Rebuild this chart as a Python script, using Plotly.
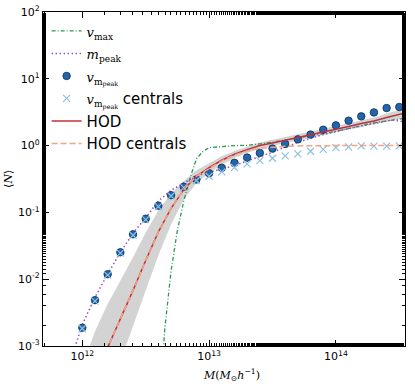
import plotly.graph_objects as go

# halo mass grid (M_sun/h)
mass = [1.0e12, 1.259e12, 1.585e12, 1.995e12, 2.512e12, 3.162e12, 3.981e12,
        5.012e12, 6.310e12, 7.943e12, 1.0e13, 1.259e13, 1.585e13, 1.995e13,
        2.512e13, 3.162e13, 3.981e13, 5.012e13, 6.310e13, 7.943e13, 1.0e14,
        1.259e14, 1.585e14, 1.995e14, 2.512e14, 3.162e14, 3.548e14]

hod = [7.9e-5, 3.2e-4, 9.5e-4, 2.5e-3, 6.8e-3, 0.019, 0.051, 0.115, 0.219,
       0.347, 0.468, 0.603, 0.741, 0.871, 1.0, 1.096, 1.20, 1.33, 1.46, 1.60,
       1.76, 1.93, 2.14, 2.34, 2.63, 2.95, 3.09]
hod_cen = [7.9e-5, 3.2e-4, 9.5e-4, 2.5e-3, 6.8e-3, 0.019, 0.051, 0.115, 0.219,
           0.347, 0.447, 0.589, 0.724, 0.832, 0.912, 0.955, 0.977, 0.99, 1.0,
           1.0, 1.0, 1.0, 1.0, 1.0, 1.0, 1.0, 1.0]
hod_hi = [5.0e-4, 1.66e-3, 4.27e-3, 9.5e-3, 0.0214, 0.050, 0.107, 0.19, 0.295,
          0.427, 0.55, 0.69, 0.83, 0.966, 1.11, 1.22, 1.33, 1.48, 1.62, 1.78,
          1.95, 2.14, 2.37, 2.63, 3.02, 3.47, 3.63]
hod_lo = [1.0e-5, 5.0e-5, 1.8e-4, 6.0e-4, 2.0e-3, 6.8e-3, 0.0229, 0.066, 0.155,
          0.275, 0.389, 0.519, 0.653, 0.776, 0.902, 0.989, 1.084, 1.20, 1.32,
          1.445, 1.585, 1.74, 1.91, 2.09, 2.29, 2.51, 2.63]

vmax_mass = [4.17e12, 4.47e12, 5.01e12, 5.62e12, 6.31e12, 7.08e12, 7.94e12,
             8.91e12, 1.0e13, 1.259e13, 1.585e13, 1.995e13, 2.512e13,
             3.162e13, 3.981e13, 5.012e13, 6.310e13, 7.943e13, 1.0e14,
             1.259e14, 1.585e14, 1.995e14, 2.512e14, 3.162e14, 3.548e14]
vmax_n = [2.5e-4, 1.78e-3, 0.0132, 0.0537, 0.148, 0.331, 0.631, 0.813, 0.933,
          0.977, 1.0, 1.01, 1.05, 1.12, 1.22, 1.30, 1.40, 1.51, 1.64, 1.80,
          1.97, 2.19, 2.34, 2.51, 2.57]

mpeak_mass = [7.94e11, 8.91e11, 1.0e12, 1.259e12, 1.585e12, 1.995e12,
              2.512e12, 3.162e12, 3.981e12, 5.012e12, 6.310e12, 7.943e12,
              1.0e13, 1.259e13, 1.585e13, 1.995e13, 2.512e13, 3.162e13,
              3.981e13, 5.012e13, 6.310e13, 7.943e13, 1.0e14, 1.259e14,
              1.585e14, 1.995e14, 2.512e14, 2.818e14, 3.162e14, 3.548e14]
mpeak_n = [3.2e-4, 1.07e-3, 2.09e-3, 5.37e-3, 0.012, 0.0251, 0.049, 0.083,
           0.148, 0.214, 0.275, 0.355, 0.398, 0.447, 0.501, 0.589, 0.676,
           0.794, 0.955, 1.12, 1.29, 1.46, 1.64, 1.80, 1.97, 2.16, 2.34,
           2.43, 2.34, 2.24]

pts_mass = mass[:26]
vmpeak = [0.00188, 0.00486, 0.0119, 0.0253, 0.047, 0.0805, 0.126, 0.181,
          0.242, 0.311, 0.386, 0.465, 0.552, 0.662, 0.778, 0.902, 1.06, 1.24,
          1.46, 1.73, 2.01, 2.36, 2.74, 3.14, 3.65, 3.78]
vmpeak_cen = [0.00183, 0.0047, 0.0115, 0.0245, 0.0455, 0.078, 0.122, 0.176,
              0.235, 0.30, 0.348, 0.405, 0.47, 0.533, 0.597, 0.647, 0.70,
              0.752, 0.822, 0.88, 0.933, 0.955, 0.99, 0.98, 0.98, 0.99]

x_ticks = [1e12, 1e13, 1e14]
x_ticktext = ['10<sup>12</sup>', '10<sup>13</sup>', '10<sup>14</sup>']
y_ticks = [1e-3, 1e-2, 1e-1, 1, 10, 100]
y_ticktext = ['10<sup>-3</sup>', '10<sup>-2</sup>', '10<sup>-1</sup>',
              '10<sup>0</sup>', '10<sup>1</sup>', '10<sup>2</sup>']


def math(s):
  return '<span style="font-family:DejaVu Serif;font-size:13px">' + s + '</span>'


fig = go.Figure()

fig.add_trace(go.Scatter(x=mass + mass[::-1], y=hod_hi + hod_lo[::-1],
                         fill='toself', fillcolor='#d3d3d3',
                         line=dict(width=0), mode='lines',
                         showlegend=False, hoverinfo='skip'))

fig.add_trace(go.Scatter(x=vmax_mass, y=vmax_n, mode='lines',
                         name=math('<i>v</i><sub>max</sub>'),
                         line=dict(color='#2b9b55', width=1.3,
                                   dash='4px,2px,1px,2px')))
fig.add_trace(go.Scatter(x=mpeak_mass, y=mpeak_n, mode='lines',
                         name=math('<i>m</i><sub>peak</sub>'),
                         line=dict(color='#9450c8', width=1.5,
                                   dash='1.5px,2.5px')))
fig.add_trace(go.Scatter(x=pts_mass, y=vmpeak, mode='markers',
                         name=math('<i>v</i><sub>m<sub>peak</sub></sub>'),
                         marker=dict(symbol='circle', size=7.5, color='#2166ac',
                                     line=dict(color='#0d2d50', width=0.8))))
fig.add_trace(go.Scatter(x=pts_mass, y=vmpeak_cen, mode='markers',
                         name=math('<i>v</i><sub>m<sub>peak</sub></sub>')
                              + ' centrals',
                         marker=dict(symbol='x-thin-open', size=7,
                                     color='#8cc0e4',
                                     line=dict(color='#8cc0e4', width=1.2))))
fig.add_trace(go.Scatter(x=mass, y=hod, mode='lines', name='HOD',
                         line=dict(color='#c0303c', width=1.5)))
fig.add_trace(go.Scatter(x=mass, y=hod_cen, mode='lines',
                         name='HOD centrals',
                         line=dict(color='#f4a582', width=1.5,
                                   dash='6px,3px')))

axis_style = dict(type='log', showgrid=False, zeroline=False, showline=True,
                  linecolor='black', linewidth=1.2, mirror='allticks',
                  ticks='inside', ticklen=6, tickcolor='black',
                  automargin=False, ticklabeloverflow='allow',
                  minor=dict(ticks='inside', ticklen=3, tickcolor='black',
                             showgrid=False),
                  tickfont=dict(family='DejaVu Sans', size=11, color='black'))

fig.update_xaxes(range=[11.69, 14.545], tickvals=x_ticks,
                 ticktext=x_ticktext, **axis_style)
fig.update_yaxes(range=[-3, 2], tickvals=y_ticks, ticktext=y_ticktext,
                 **axis_style)

fig.add_annotation(text='<i>M</i>(<i>M</i><sub>⊙</sub><i>h</i><sup>−1</sup>)',
                   xref='paper', yref='paper', x=0.52, y=-0.087,
                   xanchor='center', yanchor='middle', showarrow=False,
                   font=dict(family='DejaVu Serif', size=11, color='black'))
fig.add_annotation(text='⟨<i>N</i>⟩', xref='paper', yref='paper',
                   x=-0.097, y=0.5, textangle=-90, showarrow=False,
                   xanchor='center', yanchor='middle',
                   font=dict(family='DejaVu Serif', size=11, color='black'))

fig.update_layout(width=415, height=387, autosize=False,
                  margin=dict(l=43, r=10, t=12, b=41),
                  plot_bgcolor='white', paper_bgcolor='white',
                  legend=dict(x=0.01, y=0.992, xanchor='left', yanchor='top',
                              bgcolor='rgba(0,0,0,0)', tracegroupgap=0,
                              font=dict(family='DejaVu Sans', size=15,
                                        color='black')),
                  showlegend=True)

# drop the default body margin so the figure fills the window
fig.write_html("out.html", config={'displayModeBar': False},
               post_script="document.body.style.margin='0';")
